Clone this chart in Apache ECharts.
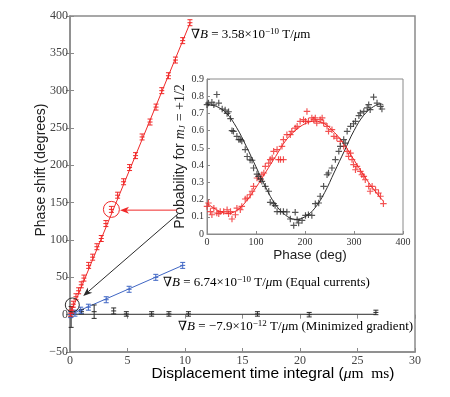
<!DOCTYPE html>
<html>
<head>
<meta charset="utf-8">
<script src="https://cdn.jsdelivr.net/npm/echarts@6/dist/echarts.min.js"></script>
<style>
  html, body { margin: 0; padding: 0; background: #fff; }
  #chart { width: 450px; height: 397px; }
</style>
</head>
<body>
<div id="chart"></div>
<script>
// main panel: phase shift vs displacement time integral
const redX = [0.05, 0.17, 0.29, 0.52, 0.75, 0.98, 1.21, 1.62, 1.97, 2.34, 2.72, 3.12, 3.6, 4.14, 4.66, 5.18, 5.70, 6.27, 6.96, 7.48, 7.98, 8.56, 9.17, 9.8, 10.43];
const redY = [2, 6, 14, 24, 32, 40, 49, 66, 77, 91, 102, 122, 141, 160, 178, 197, 213, 238, 258, 278, 300, 320, 341, 367, 391];
const redErr = 4;
const redFit = [[0, 0], [10.45, 391]];

const blueX = [0.05, 0.43, 0.93, 1.6, 3.15, 5.14, 7.46, 9.8];
const blueY = [0, 2, 6, 10, 20, 34, 50, 66];
const blueErr = [4, 4, 4, 4, 4, 4, 4, 4];
const blueFit = [[0, 0], [9.8, 66]];

const blackX = [0.1, 1.0, 2.1, 3.8, 4.9, 7.1, 8.6, 10.3, 16.3, 20.8, 26.6];
const blackY = [-3, 4, 4, 5, 1, 1, 1, 1, 1, 0, 3];
const blackErr = [14, 3, 9, 4, 3, 3, 3, 3, 3, 3, 3];
const blackFit = [[0, 0.5], [26.6, 0.5]];

// highlighted points and arrows (data coords of main panel)
const redCircle = [3.6, 141];
const blackCircle = [0.2, 13];
const redArrow = [[9.3, 140], [4.35, 140]];
const blackArrow = [[9.4, 135], [1.15, 25]];

// inset: probability vs phase
const insBlack = [[0,0.751],[3,0.76],[10,0.765],[14,0.75],[20,0.81],[24,0.76],[31,0.726],[37,0.72],[41,0.70],[44,0.71],[48,0.67],[51,0.60],[54,0.596],[61,0.567],[65,0.548],[68,0.548],[71,0.54],[78,0.49],[82,0.45],[88,0.43],[92,0.428],[95,0.383],[102,0.348],[105,0.335],[109,0.32],[112,0.306],[119,0.277],[126,0.248],[129,0.184],[136,0.176],[139,0.165],[143,0.13],[150,0.13],[156,0.13],[163,0.128],[170,0.087],[177,0.05],[180,0.126],[184,0.083],[187,0.064],[194,0.079],[201,0.108],[207,0.112],[214,0.108],[221,0.176],[228,0.18],[231,0.219],[238,0.277],[245,0.344],[248,0.354],[255,0.383],[262,0.432],[269,0.48],[272,0.509],[279,0.548],[282,0.528],[286,0.596],[293,0.625],[299,0.64],[303,0.654],[310,0.687],[313,0.703],[320,0.712],[327,0.732],[330,0.751],[333,0.722],[340,0.795],[347,0.76],[354,0.741],[357,0.726]];
const insRed = [[0,0.16],[3,0.18],[7,0.13],[10,0.112],[14,0.15],[20,0.122],[24,0.118],[27,0.13],[34,0.13],[41,0.141],[44,0.118],[48,0.13],[51,0.087],[58,0.112],[61,0.15],[68,0.141],[71,0.16],[78,0.203],[82,0.209],[88,0.228],[92,0.248],[95,0.277],[102,0.325],[109,0.315],[112,0.344],[116,0.354],[119,0.393],[126,0.412],[129,0.432],[133,0.441],[136,0.48],[143,0.49],[146,0.432],[150,0.432],[156,0.432],[153,0.509],[156,0.548],[163,0.577],[170,0.577],[173,0.596],[180,0.615],[184,0.625],[190,0.654],[197,0.664],[201,0.654],[204,0.712],[207,0.654],[214,0.674],[218,0.664],[221,0.674],[224,0.644],[231,0.664],[235,0.674],[238,0.644],[245,0.625],[248,0.596],[255,0.606],[259,0.567],[265,0.557],[272,0.538],[279,0.509],[286,0.48],[289,0.451],[293,0.47],[296,0.432],[299,0.403],[303,0.373],[306,0.393],[313,0.364],[316,0.344],[320,0.335],[323,0.315],[330,0.277],[333,0.248],[337,0.277],[344,0.257],[350,0.238],[354,0.219],[360,0.176]];
const insBlackFit = [[0,0.75],[20,0.74],[40,0.70],[60,0.62],[80,0.51],[100,0.39],[120,0.27],[140,0.17],[160,0.11],[180,0.085],[200,0.10],[220,0.15],[240,0.24],[260,0.36],[280,0.48],[300,0.60],[320,0.69],[340,0.74],[355,0.755],[360,0.75]];
const insRedFit = [[0,0.18],[20,0.14],[40,0.12],[60,0.135],[80,0.19],[100,0.27],[120,0.36],[140,0.45],[160,0.54],[180,0.60],[200,0.64],[220,0.655],[240,0.64],[260,0.59],[280,0.52],[300,0.43],[320,0.34],[340,0.26],[360,0.19]];

const RED = '#f02828';
const BLUE = '#3f66c4';
const BLACK = '#2b2b2b';
const AXIS = '#8a8a8a';
const SERIF = '"Liberation Serif", "DejaVu Serif", serif';
const SANS = '"Liberation Sans", Arial, sans-serif';

const chart = echarts.init(document.getElementById('chart'));

function errBars(xs, ys, errs) {
  return xs.map((x, i) => [x, ys[i], Array.isArray(errs) ? errs[i] : errs]);
}

function renderErr(color) {
  return function (params, api) {
    const x = api.value(0), y = api.value(1), e = api.value(2);
    const c = api.coord([x, y]);
    const t = api.coord([x, y + e]);
    const b = api.coord([x, y - e]);
    const w = 2.5;
    const st = { stroke: color, lineWidth: 1 };
    return {
      type: 'group',
      children: [
        { type: 'line', shape: { x1: c[0], y1: t[1], x2: c[0], y2: b[1] }, style: st },
        { type: 'line', shape: { x1: c[0] - w, y1: t[1], x2: c[0] + w, y2: t[1] }, style: st },
        { type: 'line', shape: { x1: c[0] - w, y1: b[1], x2: c[0] + w, y2: b[1] }, style: st },
        { type: 'line', shape: { x1: c[0] - w, y1: c[1], x2: c[0] + w, y2: c[1] }, style: st }
      ]
    };
  };
}

function renderArrow(color) {
  return function (params, api) {
    const p0 = api.coord([api.value(0), api.value(1)]);
    const p1 = api.coord([api.value(2), api.value(3)]);
    const dx = p1[0] - p0[0], dy = p1[1] - p0[1];
    const len = Math.sqrt(dx * dx + dy * dy);
    const ux = dx / len, uy = dy / len;
    const hl = 9, hw = 3.5;
    const bx = p1[0] - ux * hl, by = p1[1] - uy * hl;
    const nx = bx + ux * 2.5, ny = by + uy * 2.5;
    return {
      type: 'group',
      children: [
        { type: 'line', shape: { x1: p0[0], y1: p0[1], x2: nx, y2: ny }, style: { stroke: color, lineWidth: 1 } },
        { type: 'polygon', shape: { points: [p1, [bx - uy * hw, by + ux * hw], [nx, ny], [bx + uy * hw, by - ux * hw]] }, style: { fill: color } }
      ]
    };
  };
}

function renderCircle(color, r) {
  return function (params, api) {
    const c = api.coord([api.value(0), api.value(1)]);
    return { type: 'circle', shape: { cx: c[0], cy: c[1], r: r }, style: { fill: 'none', stroke: color, lineWidth: 1 } };
  };
}

const PLUS = 'path://M0,4.1H10V5.9H0Z M4.1,0H5.9V10H4.1Z';

const mainX = { min: 0, max: 30, interval: 5 };
const mainY = { min: -50, max: 400, interval: 50 };

const annRich = {
  t: { fontFamily: SERIF, fontSize: 13, color: '#555' },
  i: { fontFamily: SERIF, fontSize: 13, fontStyle: 'italic', color: '#555' },
  sup: { fontFamily: SERIF, fontSize: 9, color: '#555', verticalAlign: 'top', padding: [0, 0, 6, 0] }
};

chart.setOption({
  animation: false,
  backgroundColor: '#fff',
  grid: [
    { left: 70, top: 16, width: 345, height: 336, show: true, borderColor: AXIS, borderWidth: 1.5, backgroundColor: 'transparent' },
    { left: 207, top: 79, width: 196, height: 155, show: true, borderColor: AXIS, borderWidth: 1, backgroundColor: '#fff' }
  ],
  xAxis: [
    {
      gridIndex: 0, type: 'value', ...mainX,
      axisLine: { show: true, onZero: false, lineStyle: { color: AXIS, width: 1.5 } },
      axisTick: { inside: true, length: 4, lineStyle: { color: AXIS } },
      axisLabel: { fontFamily: SERIF, fontSize: 12, color: '#444', margin: 3 },
      splitLine: { show: false }
    },
    {
      gridIndex: 0, type: 'value', position: 'top', ...mainX,
      axisLine: { show: false },
      axisTick: { inside: true, length: 4, lineStyle: { color: AXIS } },
      axisLabel: { show: false }, splitLine: { show: false }
    },
    {
      gridIndex: 1, type: 'value', min: 0, max: 400, interval: 100,
      name: 'Phase (deg)', nameLocation: 'middle', nameGap: 12,
      nameTextStyle: { fontFamily: SANS, fontSize: 13.5, color: '#222', padding: [0, 0, 0, 10] },
      axisLine: { show: true, onZero: false, lineStyle: { color: AXIS } },
      axisTick: { inside: true, length: 3, lineStyle: { color: AXIS } },
      axisLabel: { fontFamily: SERIF, fontSize: 10, color: '#333', margin: 3 },
      splitLine: { show: false }
    }
  ],
  yAxis: [
    {
      gridIndex: 0, type: 'value', ...mainY,
      axisLine: { show: true, onZero: false, lineStyle: { color: AXIS, width: 1.5 } },
      axisTick: { inside: true, length: 4, lineStyle: { color: AXIS } },
      axisLabel: { fontFamily: SERIF, fontSize: 12, color: '#444', margin: 2, formatter: v => String(v).replace('-', '−') },
      splitLine: { show: false }
    },
    {
      gridIndex: 0, type: 'value', position: 'right', ...mainY,
      axisLine: { show: false },
      axisTick: { inside: true, length: 4, lineStyle: { color: AXIS } },
      axisLabel: { show: false }, splitLine: { show: false }
    },
    {
      gridIndex: 1, type: 'value', min: 0, max: 0.9, interval: 0.1,
      name: 'Probability for {i|m}{sub|J} {r|= +1/2}', nameLocation: 'middle', nameGap: 17,
      nameTextStyle: { fontFamily: SANS, fontSize: 14, color: '#222',
        rich: {
          i: { fontFamily: SERIF, fontStyle: 'italic', fontSize: 14, color: '#222' },
          sub: { fontFamily: SERIF, fontStyle: 'italic', fontSize: 9, color: '#222', verticalAlign: 'bottom' },
          r: { fontFamily: SERIF, fontSize: 14, color: '#222' }
        } },
      axisLine: { show: true, onZero: false, lineStyle: { color: AXIS } },
      axisTick: { inside: true, length: 3, lineStyle: { color: AXIS } },
      axisLabel: { fontFamily: SERIF, fontSize: 10, color: '#333', margin: 3, formatter: v => String(Math.round(v * 10) / 10) },
      splitLine: { show: false }
    }
  ],
  series: [
    { type: 'line', xAxisIndex: 0, yAxisIndex: 0, data: blackFit, symbol: 'none', lineStyle: { color: BLACK, width: 1 }, z: 2 },
    { type: 'line', xAxisIndex: 0, yAxisIndex: 0, data: blueFit, symbol: 'none', lineStyle: { color: BLUE, width: 1 }, z: 2 },
    { type: 'line', xAxisIndex: 0, yAxisIndex: 0, data: redFit, symbol: 'none', lineStyle: { color: RED, width: 1 }, z: 2 },
    { type: 'custom', xAxisIndex: 0, yAxisIndex: 0, data: errBars(blackX, blackY, blackErr), renderItem: renderErr(BLACK), z: 3 },
    { type: 'custom', xAxisIndex: 0, yAxisIndex: 0, data: errBars(blueX, blueY, blueErr), renderItem: renderErr(BLUE), z: 3 },
    { type: 'custom', xAxisIndex: 0, yAxisIndex: 0, data: errBars(redX, redY, redErr), renderItem: renderErr(RED), z: 3 },
    { type: 'custom', xAxisIndex: 0, yAxisIndex: 0, data: [redCircle], renderItem: renderCircle(RED, 8), z: 4 },
    { type: 'custom', xAxisIndex: 0, yAxisIndex: 0, data: [blackCircle], renderItem: renderCircle(BLACK, 7), z: 4 },
    { type: 'custom', xAxisIndex: 0, yAxisIndex: 0, data: [redArrow.flat()], renderItem: renderArrow(RED), z: 4 },
    { type: 'custom', xAxisIndex: 0, yAxisIndex: 0, data: [blackArrow.flat()], renderItem: renderArrow(BLACK), z: 4 },
    { type: 'line', xAxisIndex: 2, yAxisIndex: 2, data: insRedFit, smooth: 0.4, symbol: 'none', lineStyle: { color: RED, width: 1 }, z: 5 },
    { type: 'line', xAxisIndex: 2, yAxisIndex: 2, data: insBlackFit, smooth: 0.4, symbol: 'none', lineStyle: { color: BLACK, width: 1 }, z: 5 },
    { type: 'scatter', xAxisIndex: 2, yAxisIndex: 2, data: insRed, symbol: PLUS, symbolSize: 6.5, itemStyle: { color: RED }, z: 6 },
    { type: 'scatter', xAxisIndex: 2, yAxisIndex: 2, data: insBlack, symbol: PLUS, symbolSize: 6.5, itemStyle: { color: BLACK }, z: 6 }
  ],
  graphic: [
    { type: 'text', x: 41, y: 170, rotation: Math.PI / 2, z: 10,
      style: { text: 'Phase shift (degrees)', font: '14px ' + SANS, fill: '#222', align: 'center', verticalAlign: 'middle' } },
    { type: 'text', x: 273, y: 374, z: 10,
      style: { text: '{s|Displacement time integral (}{i|μ}{r|m  ms}{s|)}', align: 'center', verticalAlign: 'middle',
        rich: {
          s: { fontFamily: SANS, fontSize: 15.5, color: '#222' },
          i: { fontFamily: SERIF, fontStyle: 'italic', fontSize: 15.5, color: '#222' },
          r: { fontFamily: SERIF, fontSize: 15.5, color: '#222' }
        } } },
    { type: 'text', left: 191, top: 27, z: 10,
      style: { text: '{t|∇}{i|B}{t| = 3.58×10}{sup|−10}{t| T/}{i|μ}{t|m}', rich: annRich } },
    { type: 'text', left: 163, top: 275, z: 10,
      style: { text: '{t|∇}{i|B}{t| = 6.74×10}{sup|−10}{t| T/}{i|μ}{t|m (Equal currents)}', rich: annRich } },
    { type: 'text', left: 178, top: 319, z: 10,
      style: { text: '{t|∇}{i|B}{t| = −7.9×10}{sup|−12}{t| T/}{i|μ}{t|m (Minimized gradient)}', rich: annRich } }
  ]
});
</script>
</body>
</html>
